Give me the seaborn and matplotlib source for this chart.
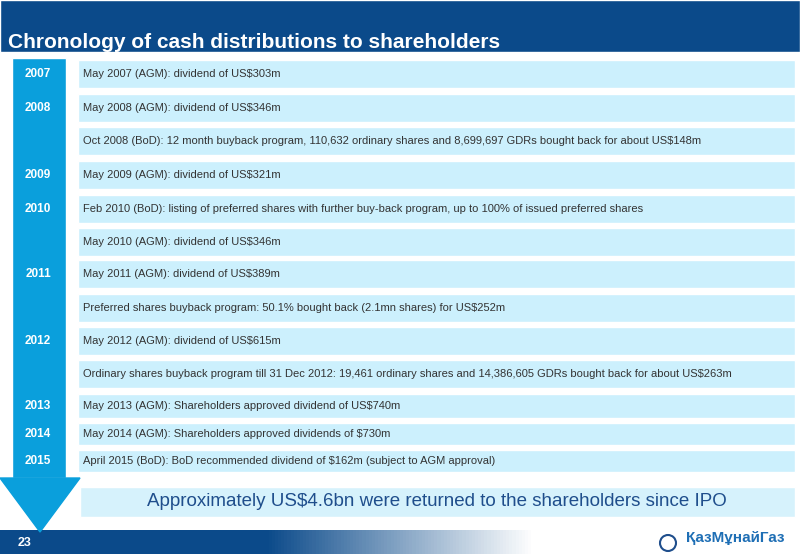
import numpy as np
import matplotlib.pyplot as plt
import seaborn as sns
from matplotlib.patches import Polygon

sns.set_style("white")
plt.rcParams['font.family'] = ['Liberation Sans', 'DejaVu Sans']

years = ["2007", "2008", "", "2009", "2010", "", "2011", "", "2012", "", "2013", "2014", "2015"]
events = [
    "May 2007 (AGM): dividend of US$303m",
    "May 2008 (AGM): dividend of US$346m",
    "Oct 2008 (BoD): 12 month buyback program, 110,632 ordinary shares and 8,699,697 GDRs bought back for about US$148m",
    "May 2009 (AGM): dividend of US$321m",
    "Feb 2010 (BoD): listing of preferred shares with further buy-back program, up to 100% of issued preferred shares",
    "May 2010 (AGM): dividend of US$346m",
    "May 2011 (AGM): dividend of US$389m",
    "Preferred shares buyback program: 50.1% bought back (2.1mn shares) for US$252m",
    "May 2012 (AGM): dividend of US$615m",
    "Ordinary shares buyback program till 31 Dec 2012: 19,461 ordinary shares and 14,386,605 GDRs bought back for about US$263m",
    "May 2013 (AGM): Shareholders approved dividend of US$740m",
    "May 2014 (AGM): Shareholders approved dividends of $730m",
    "April 2015 (BoD): BoD recommended dividend of $162m (subject to AGM approval)",
]
row_centers = [74, 108, 141, 175, 209, 242, 274, 308, 341, 374, 406, 434, 461]
row_heights = [28, 28, 28, 28, 28, 28, 28, 28, 28, 28, 24, 22, 22]
summary = "Approximately US$4.6bn were returned to the shareholders since IPO"

fig = plt.figure(figsize=(8, 5.54), dpi=100)
ax = fig.add_axes([0, 0, 1, 1])
ax.set_xlim(0, 800)
ax.set_ylim(554, 0)
ax.axis("off")

# title bar
ax.barh(26, 800, height=52, left=0, color="#0b4a8a")
ax.text(8, 43, "Chronology of cash distributions to shareholders", color="white",
        fontsize=15, fontweight="bold", va="center")

# arrow
ax.barh(268, 54, height=420, left=12, color="#0a9fdc")
ax.add_patch(Polygon([[0, 478], [80, 478], [40, 532]], closed=True, color="#0a9fdc"))

# event rows
ax.barh(row_centers, 717, height=row_heights, left=78, color="#ccf0fd")
for y, yr, ev in zip(row_centers, years, events):
    if yr:
        ax.text(38, y, yr, color="white", fontsize=8.5, fontweight="bold", ha="center", va="center")
    ax.text(83, y, ev, color="#333333", fontsize=8, va="center")

# summary box
ax.barh(502, 715, height=30, left=80, color="#d6f2fc")
ax.text(437, 502, summary, color="#1f4e8c", fontsize=13.5, ha="center", va="center")

# footer gradient
grad = np.linspace(0, 1, 256)[None, :]
from matplotlib.colors import LinearSegmentedColormap
cmap = LinearSegmentedColormap.from_list("f", ["#0b4a8a", "#0b4a8a", "#ffffff", "#ffffff"], N=256)
ax.imshow(grad, extent=[0, 800, 554, 530], aspect="auto", cmap=cmap, zorder=0)
ax.set_xlim(0, 800)
ax.set_ylim(554, 0)
ax.text(18, 543, "23", color="white", fontsize=9, fontweight="bold", va="center")
ax.text(735, 538, "ҚазМұнайГаз", color="#1f6fb5", fontsize=11, fontweight="bold",
        ha="center", va="center")
ax.add_patch(plt.Circle((668, 543), 8, fill=False, ec="#1f4e8c", lw=1.5))

fig.savefig("out.png", dpi=100)
